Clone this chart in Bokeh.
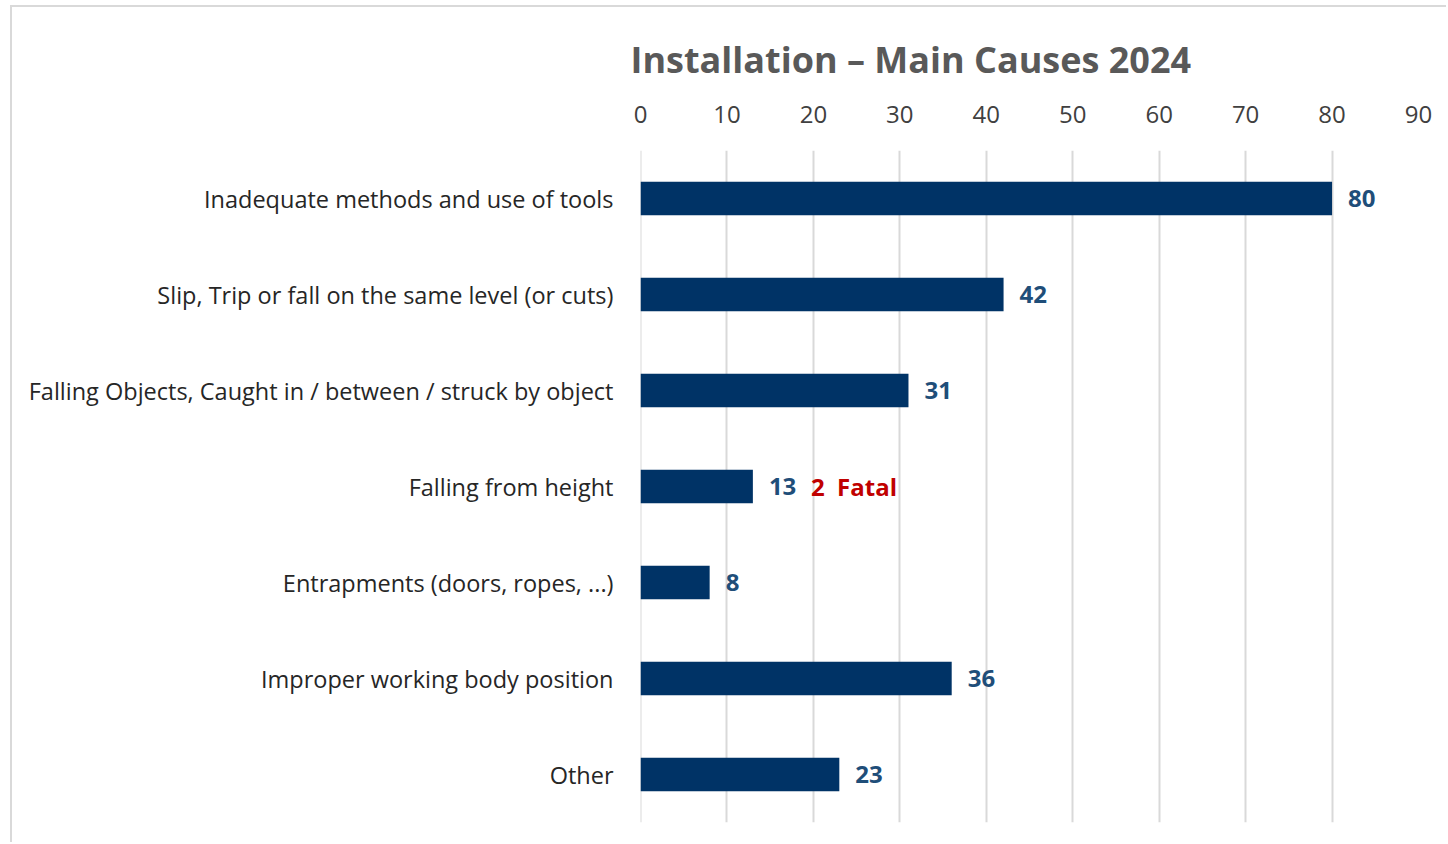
from bokeh.plotting import figure
from bokeh.models import ColumnDataSource, Title, Span
from bokeh.core.properties import value
from bokeh.embed import file_html
from bokeh.resources import INLINE

categories = [
    "Inadequate methods and use of tools",
    "Slip, Trip or fall on the same level (or cuts)",
    "Falling Objects, Caught in / between / struck by object",
    "Falling from height",
    "Entrapments (doors, ropes, ...)",
    "Improper working body position",
    "Other",
]
counts = [80, 42, 31, 13, 8, 36, 23]
fatal_notes = ["", "", "", "2\u00a0\u00a0Fatal", "", "", ""]
x_ticks = [0, 10, 20, 30, 40, 50, 60, 70, 80, 90]

FONT = "Open Sans"

src = ColumnDataSource(dict(
    cat=categories,
    val=counts,
    lbl=[str(v) for v in counts],
))

p = figure(
    width=1436, height=837,
    y_range=list(reversed(categories)),
    x_range=(0, 90),
    x_axis_location="above",
    output_backend="svg",
    toolbar_location=None,
    min_border_left=628, min_border_right=30,
    min_border_top=143, min_border_bottom=22,
)
p.styles = {"border-top": "2px solid #d9d9d9", "border-left": "2px solid #d9d9d9",
            "margin-left": "10px", "margin-top": "5px"}

p.add_layout(Span(location=0, dimension="height", line_color="#d9d9d9",
                  line_width=2, level="underlay"))

p.hbar(y="cat", right="val", left=0, height=0.35, source=src,
       fill_color="#003366", line_color=None)

p.text(x="val", y="cat", text="lbl", source=src, x_offset=16,
       text_baseline="middle", text_align="left",
       text_font=value(FONT), text_font_style="bold",
       text_font_size="24px", text_color="#1f4e79")

note_src = ColumnDataSource(dict(
    cat=[c for c, n in zip(categories, fatal_notes) if n],
    val=[v for v, n in zip(counts, fatal_notes) if n],
    note=[n for n in fatal_notes if n],
))
p.text(x="val", y="cat", text="note", source=note_src, x_offset=58,
       text_baseline="middle", text_align="left",
       text_font=value(FONT), text_font_style="bold",
       text_font_size="24px", text_color="#c00000")

p.title = Title(text="Installation \u2013 Main Causes 2024", align="left",
                offset=-10, text_font=FONT, text_font_size="36px",
                text_font_style="bold", text_color="#595959", standoff=37)

xa = p.xaxis[0]
xa.ticker = x_ticks
xa.axis_line_color = None
xa.major_tick_line_color = None
xa.minor_tick_line_color = None
xa.major_label_text_font = FONT
xa.major_label_text_font_size = "24px"
xa.major_label_text_color = "#404040"
xa.major_label_standoff = 22

ya = p.yaxis[0]
ya.axis_line_color = None
ya.major_tick_line_color = None
ya.minor_tick_line_color = None
ya.major_label_text_font = FONT
ya.major_label_text_font_size = "23.5px"
ya.major_label_text_color = "#262626"
ya.major_label_standoff = 21

p.xgrid.grid_line_color = "#d9d9d9"
p.xgrid.grid_line_width = 2
p.ygrid.grid_line_color = None
p.outline_line_color = None
p.y_range.range_padding = 0

open("out.html", "w").write(file_html(p, INLINE))
